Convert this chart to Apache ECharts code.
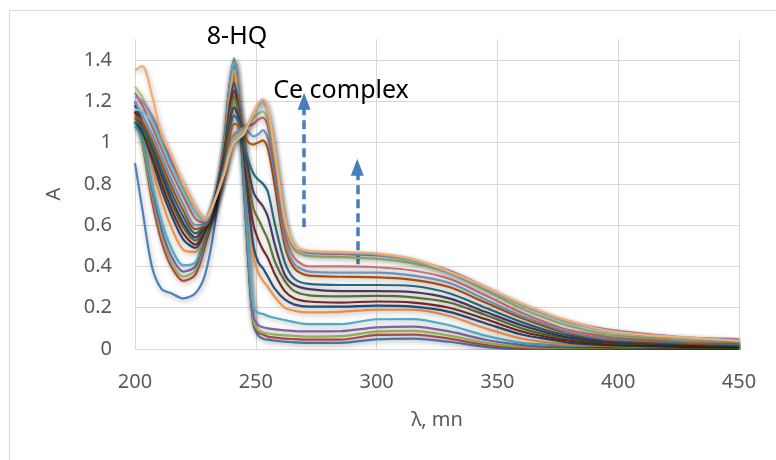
<!DOCTYPE html>
<html>
<head>
<meta charset="utf-8">
<script src="https://cdn.jsdelivr.net/npm/echarts@6/dist/echarts.min.js"></script>
<style>html,body{margin:0;padding:0;background:#fff}#c{width:776px;height:460px}</style>
</head>
<body>
<div id="c"></div>
<script>
// Wavelength grid (nm)
const wavelengths = [200,203,207,211,215,220,225,229,233,237,239,241,243,245,247,249,251,253,255,258,262,266,272,285,300,315,330,345,360,372,380,395,410,430,450];

// Absorbance spectra (series, bottom 8-HQ -> top Ce complex)
const s1  = [0.90,0.68,0.40,0.29,0.27,0.245,0.27,0.36,0.60,1.00,1.25,1.40,1.18,0.80,0.40,0.12,0.065,0.05,0.045,0.04,0.035,0.032,0.03,0.03,0.047,0.05,0.035,0.01,0.0,0.0,0.0,0.0,0.0,0.0,0.0];
const s2  = [1.15,1.00,0.72,0.52,0.40,0.33,0.36,0.50,0.68,1.00,1.25,1.39,1.17,0.82,0.42,0.13,0.08,0.07,0.06,0.055,0.05,0.048,0.045,0.045,0.068,0.07,0.05,0.02,0.005,0.0,0.0,0.0,0.0,0.0,0.0];
const s3  = [1.10,1.00,0.75,0.55,0.42,0.35,0.38,0.52,0.69,1.01,1.26,1.41,1.18,0.83,0.44,0.14,0.09,0.08,0.075,0.07,0.066,0.063,0.06,0.062,0.084,0.088,0.065,0.03,0.01,0.005,0.005,0.005,0.005,0.005,0.005];
const s4  = [1.20,1.05,0.78,0.58,0.45,0.375,0.40,0.54,0.70,1.01,1.25,1.40,1.17,0.83,0.45,0.16,0.115,0.105,0.10,0.095,0.09,0.087,0.085,0.086,0.105,0.108,0.085,0.045,0.02,0.01,0.01,0.01,0.01,0.01,0.01];
const s5  = [1.08,1.02,0.80,0.62,0.49,0.405,0.42,0.55,0.71,1.02,1.26,1.39,1.18,0.84,0.47,0.20,0.175,0.17,0.16,0.15,0.14,0.13,0.12,0.12,0.144,0.145,0.115,0.065,0.03,0.02,0.015,0.015,0.015,0.01,0.01];
const s6  = [1.12,1.05,0.88,0.72,0.59,0.48,0.47,0.56,0.71,0.99,1.21,1.35,1.16,0.95,0.68,0.45,0.37,0.33,0.30,0.25,0.20,0.185,0.177,0.18,0.19,0.19,0.16,0.10,0.05,0.03,0.02,0.015,0.01,0.01,0.01];
const s7  = [1.10,1.05,0.92,0.77,0.65,0.53,0.49,0.57,0.72,0.96,1.16,1.29,1.15,0.95,0.70,0.50,0.42,0.39,0.35,0.29,0.24,0.215,0.205,0.205,0.21,0.205,0.18,0.125,0.07,0.045,0.03,0.02,0.015,0.01,0.01];
const s8  = [1.15,1.08,0.95,0.80,0.68,0.56,0.505,0.58,0.72,0.95,1.13,1.25,1.14,0.96,0.75,0.60,0.53,0.48,0.44,0.36,0.28,0.245,0.23,0.225,0.23,0.225,0.20,0.145,0.085,0.055,0.04,0.025,0.02,0.015,0.015];
const s9  = [1.12,1.07,0.96,0.83,0.71,0.59,0.525,0.59,0.72,0.94,1.11,1.22,1.14,0.98,0.82,0.68,0.63,0.58,0.53,0.42,0.33,0.28,0.26,0.255,0.257,0.25,0.225,0.165,0.10,0.065,0.05,0.03,0.025,0.02,0.015];
const s10 = [1.18,1.10,0.98,0.85,0.73,0.61,0.54,0.60,0.72,0.92,1.08,1.17,1.12,1.00,0.87,0.76,0.72,0.69,0.64,0.50,0.36,0.31,0.29,0.28,0.28,0.275,0.245,0.18,0.115,0.075,0.055,0.035,0.03,0.02,0.02];
const s11 = [1.10,1.08,0.99,0.87,0.76,0.64,0.56,0.60,0.72,0.91,1.05,1.13,1.10,1.00,0.91,0.85,0.82,0.80,0.76,0.60,0.42,0.34,0.315,0.31,0.31,0.305,0.27,0.20,0.13,0.085,0.065,0.04,0.03,0.025,0.02];
const s12 = [1.13,1.10,1.01,0.90,0.79,0.67,0.58,0.60,0.72,0.89,1.02,1.09,1.08,1.04,1.00,0.99,1.00,1.01,0.97,0.78,0.50,0.39,0.355,0.35,0.347,0.335,0.30,0.225,0.15,0.10,0.075,0.045,0.035,0.025,0.02];
const s13 = [1.20,1.13,1.04,0.93,0.82,0.70,0.60,0.60,0.72,0.88,0.98,1.04,1.06,1.07,1.05,1.03,1.04,1.06,1.02,0.83,0.53,0.41,0.375,0.37,0.37,0.355,0.32,0.24,0.16,0.11,0.08,0.05,0.04,0.03,0.025];
const s14 = [1.24,1.18,1.08,0.97,0.86,0.74,0.63,0.61,0.72,0.87,0.97,1.03,1.05,1.07,1.08,1.09,1.11,1.12,1.08,0.87,0.56,0.44,0.40,0.40,0.396,0.38,0.34,0.26,0.175,0.12,0.09,0.06,0.045,0.035,0.03];
const s15 = [1.27,1.22,1.12,1.01,0.90,0.78,0.66,0.62,0.72,0.86,0.96,1.02,1.04,1.06,1.09,1.12,1.14,1.15,1.11,0.91,0.60,0.48,0.45,0.445,0.436,0.415,0.37,0.285,0.195,0.14,0.11,0.07,0.055,0.04,0.035];
const s16 = [1.22,1.20,1.13,1.03,0.91,0.80,0.69,0.63,0.72,0.86,0.95,1.01,1.03,1.05,1.09,1.14,1.18,1.20,1.15,0.94,0.62,0.50,0.465,0.46,0.454,0.43,0.38,0.30,0.215,0.16,0.13,0.095,0.075,0.055,0.048];
const s17 = [1.16,1.15,1.10,0.99,0.88,0.76,0.66,0.62,0.72,0.86,0.95,1.01,1.03,1.05,1.09,1.14,1.18,1.20,1.15,0.94,0.62,0.50,0.47,0.465,0.458,0.43,0.372,0.295,0.215,0.16,0.13,0.088,0.068,0.052,0.04];
const s18 = [1.35,1.37,1.23,1.04,0.94,0.80,0.69,0.63,0.72,0.85,0.94,1.00,1.02,1.04,1.09,1.14,1.19,1.21,1.16,0.95,0.63,0.50,0.475,0.47,0.463,0.435,0.375,0.30,0.22,0.165,0.135,0.09,0.07,0.055,0.04];

const spectra = [s1,s2,s3,s4,s5,s6,s7,s8,s9,s10,s11,s12,s13,s14,s15,s16,s17,s18];
const colors = ['#4F81BD','#C0504D','#9BBB59','#8064A2','#4BACC6','#F79646',
                '#2C4D75','#772C2A','#5F7530','#4D3B62','#276A7C','#B65708',
                '#729ACA','#CD7371','#AFC97A','#9983B5','#6FBDD1','#F9AB6B'];

// Annotation arrows [x, yStart, yEnd] in data units
const arrow1 = [270, 0.59, 1.20];
const arrow2 = [292, 0.41, 0.88];

const chart = echarts.init(document.getElementById('c'), null, {renderer:'canvas'});
const FONT = '"Noto Sans", "Open Sans", sans-serif';

const series = spectra.map((vals, i) => ({
  type: 'line',
  name: 'S' + (i + 1),
  data: wavelengths.map((w, k) => [w, vals[k]]),
  showSymbol: false,
  symbol: 'none',
  smooth: 0.3,
  lineStyle: {
    color: colors[i], width: 2.2,
    shadowColor: 'rgba(0,0,0,0.3)', shadowBlur: 5, shadowOffsetX: 1, shadowOffsetY: 2
  },
  itemStyle: {color: colors[i]},
  z: 2 + i
}));

function arrowLine(a) {
  return [{coord: [a[0], a[1]], symbol: 'none'}, {coord: [a[0], a[2]], symbol: 'triangle', symbolSize: [13, 17]}];
}
series.push({
  type: 'line', name: 'arrows', data: [], silent: true, z: 30,
  markLine: {
    silent: true, animation: false,
    symbol: ['none', 'triangle'],
    label: {show: false},
    lineStyle: {color: '#4A7EBB', width: 3.5, type: [9, 5]},
    itemStyle: {color: '#4A7EBB'},
    emphasis: {disabled: true},
    data: [arrowLine(arrow1), arrowLine(arrow2)]
  }
});

chart.setOption({
  animation: false,
  backgroundColor: '#fff',
  grid: {left: 135, right: 37, top: 39.25, bottom: 111, containLabel: false},
  xAxis: {
    type: 'value', min: 200, max: 450, interval: 50,
    name: 'λ, mn', nameLocation: 'middle', nameGap: 61,
    nameTextStyle: {fontFamily: FONT, fontSize: 20, color: '#595959'},
    axisLine: {show: true, lineStyle: {color: '#d9d9d9', width: 1}},
    axisTick: {show: false},
    axisLabel: {fontFamily: FONT, fontSize: 20, color: '#595959', margin: 23},
    splitLine: {show: true, lineStyle: {color: '#d9d9d9', width: 1}}
  },
  yAxis: {
    type: 'value', min: 0, max: 1.5, interval: 0.2,
    name: 'A', nameLocation: 'middle', nameGap: 71,
    nameTextStyle: {fontFamily: FONT, fontSize: 20, color: '#595959'},
    axisLine: {show: false},
    axisTick: {show: false},
    axisLabel: {fontFamily: FONT, fontSize: 20, color: '#595959', margin: 23, showMaxLabel: false,
      formatter: v => String(Math.round(v * 10) / 10)},
    splitLine: {show: true, showMaxLine: false, lineStyle: {color: '#d9d9d9', width: 1}}
  },
  graphic: [
    {type: 'rect', shape: {x: 9.5, y: 10.5, width: 800, height: 500}, style: {fill: 'none', stroke: '#d9d9d9', lineWidth: 1}, z: -1, silent: true},
    {type: 'text', x: 237, y: 37, style: {text: '8-HQ', fontFamily: FONT, fontSize: 25, fill: '#000', align: 'center', verticalAlign: 'middle'}, z: 40},
    {type: 'text', x: 341, y: 91, style: {text: 'Ce complex', fontFamily: FONT, fontSize: 25, fill: '#000', align: 'center', verticalAlign: 'middle'}, z: 40}
  ],
  series: series
});
</script>
</body>
</html>
